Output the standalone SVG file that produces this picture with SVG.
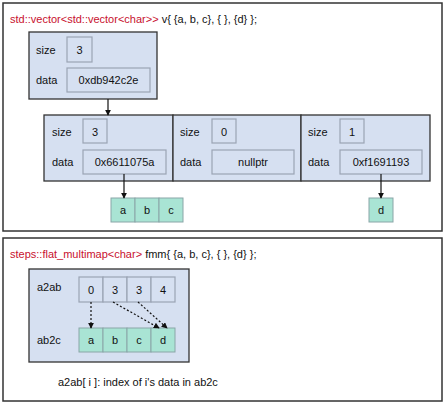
<svg xmlns="http://www.w3.org/2000/svg" width="447" height="404" viewBox="0 0 447 404">
<defs>
<marker id="ah" viewBox="0 0 8 8" refX="7" refY="4" markerWidth="6" markerHeight="6" orient="auto" markerUnits="userSpaceOnUse">
<path d="M0,0 L8,4 L0,8 z" fill="#111"/>
</marker>
</defs>
<style>
text{font-family:"Liberation Sans",Arial,sans-serif;font-size:11px;fill:#111}
.red{fill:#c8102e}
.panel{fill:#fff;stroke:#333;stroke-width:1.5}
.obj{fill:#d6e0f1;stroke:#333;stroke-width:1.3}
.fld{fill:#d6e0f1;stroke:#9aa4b4;stroke-width:1.2}
.chr{fill:#a9e4d4;stroke:#8aa6a8;stroke-width:1}
.c{text-anchor:middle}
.ln{stroke:#111;stroke-width:1.2;fill:none}
.dl{stroke:#111;stroke-width:1.2;fill:none;stroke-dasharray:2,2}
</style>
<rect class="panel" x="3" y="3" width="439" height="228"/>
<rect class="panel" x="3" y="238" width="439" height="163"/>
<text x="10" y="23"><tspan class="red">std::vector&lt;std::vector&lt;char&gt;&gt;</tspan> v{ {a, b, c}, { }, {d} };</text>
<text x="10" y="258"><tspan class="red">steps::flat_multimap&lt;char&gt;</tspan> fmm{ {a, b, c}, { }, {d} };</text>

<g id="outer">
<rect class="obj" x="29" y="32" width="128" height="67"/>
<text x="36" y="54">size</text>
<rect class="fld" x="67" y="37" width="25" height="25"/>
<text class="c" x="79.5" y="54">3</text>
<text x="36" y="84">data</text>
<rect class="fld" x="67" y="68" width="83" height="24"/>
<text class="c" x="108.5" y="84">0xdb942c2e</text>
</g>

<g id="inner0">
<rect class="obj" x="44" y="115" width="129" height="66"/>
<text x="52" y="136">size</text>
<rect class="fld" x="83" y="119" width="24" height="24"/>
<text class="c" x="95" y="136">3</text>
<text x="52" y="166">data</text>
<rect class="fld" x="83" y="150" width="83" height="24"/>
<text class="c" x="124.5" y="166">0x6611075a</text>
</g>
<g id="inner1">
<rect class="obj" x="173" y="115" width="128" height="66"/>
<text x="180" y="136">size</text>
<rect class="fld" x="212" y="119" width="24" height="24"/>
<text class="c" x="224" y="136">0</text>
<text x="180" y="166">data</text>
<rect class="fld" x="212" y="150" width="82" height="24"/>
<text class="c" x="253" y="166">nullptr</text>
</g>
<g id="inner2">
<rect class="obj" x="301" y="115" width="129" height="66"/>
<text x="308" y="136">size</text>
<rect class="fld" x="340" y="119" width="24" height="24"/>
<text class="c" x="352" y="136">1</text>
<text x="308" y="166">data</text>
<rect class="fld" x="340" y="150" width="82" height="24"/>
<text class="c" x="381" y="166">0xf1691193</text>
</g>

<g id="chars0">
<rect class="chr" x="111" y="198" width="24" height="24"/>
<rect class="chr" x="135" y="198" width="24" height="24"/>
<rect class="chr" x="159" y="198" width="24" height="24"/>
<text class="c" x="123" y="214">a</text>
<text class="c" x="147" y="214">b</text>
<text class="c" x="171" y="214">c</text>
</g>
<g id="chars2">
<rect class="chr" x="369" y="198" width="24" height="24"/>
<text class="c" x="381" y="214">d</text>
</g>

<g id="fmm">
<rect class="obj" x="29" y="269" width="160" height="93"/>
<text x="37" y="291">a2ab</text>
<text x="37" y="344">ab2c</text>
<rect class="fld" x="79" y="277" width="24" height="25"/>
<rect class="fld" x="103" y="277" width="24" height="25"/>
<rect class="fld" x="127" y="277" width="24" height="25"/>
<rect class="fld" x="151" y="277" width="24" height="25"/>
<text class="c" x="91" y="294">0</text>
<text class="c" x="115" y="294">3</text>
<text class="c" x="139" y="294">3</text>
<text class="c" x="163" y="294">4</text>
<rect class="chr" x="79" y="328" width="24" height="24"/>
<rect class="chr" x="103" y="328" width="24" height="24"/>
<rect class="chr" x="127" y="328" width="24" height="24"/>
<rect class="chr" x="151" y="328" width="24" height="24"/>
<text class="c" x="91" y="344">a</text>
<text class="c" x="115" y="344">b</text>
<text class="c" x="139" y="344">c</text>
<text class="c" x="163" y="344">d</text>
</g>
<text x="58" y="386">a2ab[ i ]: index of i's data in ab2c</text>

<g id="connectors">
<line class="ln" x1="108" y1="99" x2="108" y2="115" marker-end="url(#ah)"/>
<line class="ln" x1="124" y1="174" x2="124" y2="198" marker-end="url(#ah)"/>
<line class="ln" x1="381" y1="174" x2="381" y2="198" marker-end="url(#ah)"/>
<line class="dl" x1="91" y1="302" x2="91" y2="328" marker-end="url(#ah)"/>
<line class="dl" x1="113" y1="302" x2="159" y2="328" marker-end="url(#ah)"/>
<line class="dl" x1="138" y1="302" x2="167" y2="328" marker-end="url(#ah)"/>
</g>
</svg>
